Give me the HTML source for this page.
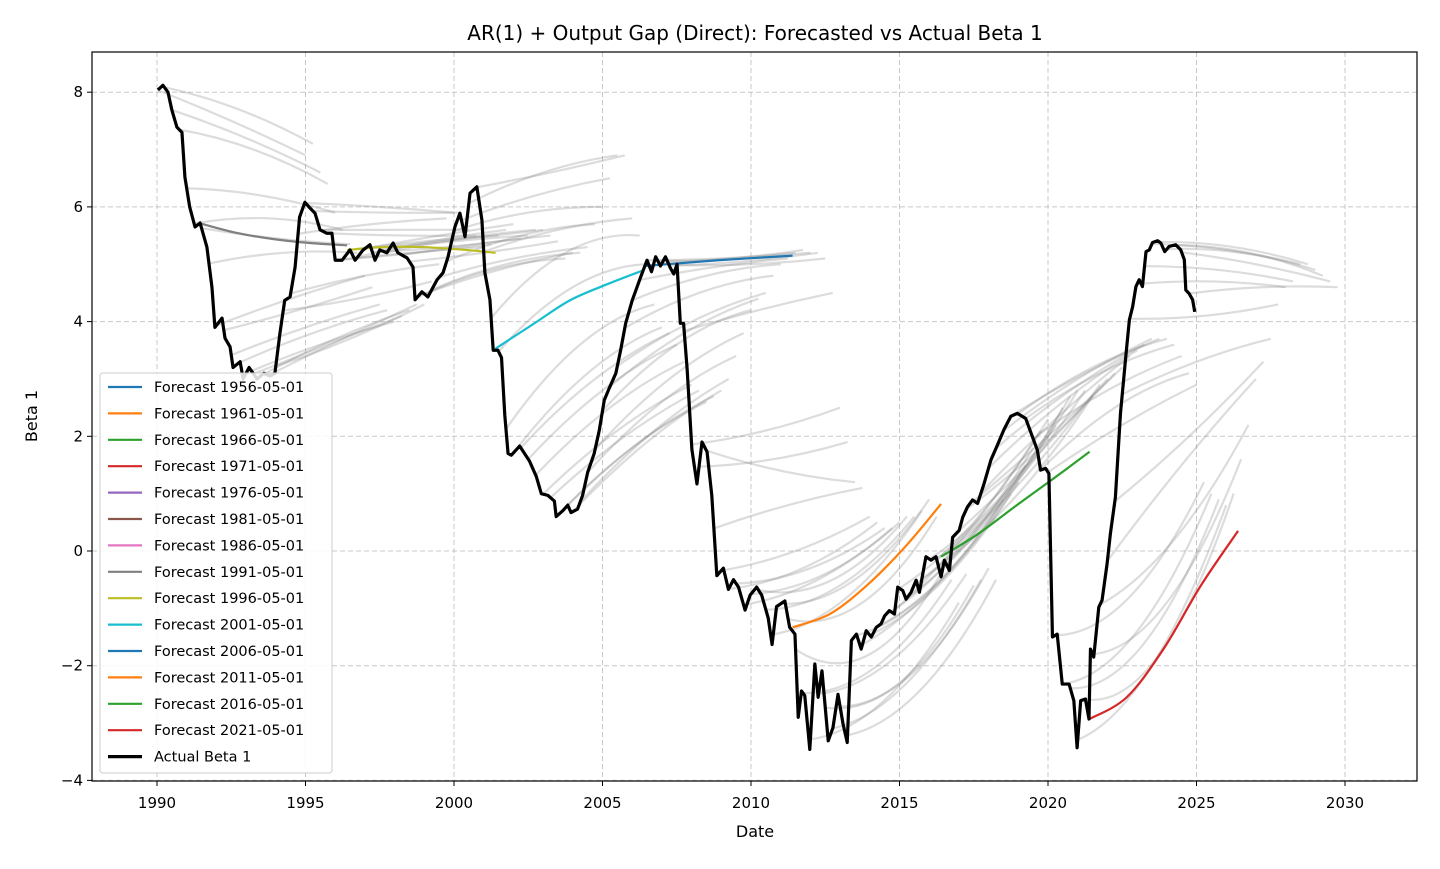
<!DOCTYPE html>
<html><head><meta charset="utf-8">
<style>
html,body{margin:0;padding:0;background:#fff;}
svg text{font-family:"DejaVu Sans","Liberation Sans",sans-serif;}
</style></head>
<body>
<svg id="chart" width="1440" height="864" viewBox="0 0 1440 864" xmlns="http://www.w3.org/2000/svg">
<rect x="0" y="0" width="1440" height="864" fill="#fff"/>
<text x="755" y="40" font-size="20" text-anchor="middle" fill="#000">AR(1) + Output Gap (Direct): Forecasted vs Actual Beta 1</text>
<text x="755" y="837" font-size="16" text-anchor="middle">Date</text>
<text x="37" y="416" font-size="16" text-anchor="middle" transform="rotate(-90 37 416)">Beta 1</text>
<g id="grid"></g>
<g id="gray"></g>
<g id="colored"></g>
<g id="actual"></g>
<rect x="92" y="52" width="1325" height="729" fill="none" stroke="#000" stroke-width="1.2"/>
<g id="ticks"></g>
<g id="legend"></g>
</svg>
<script>
const xTicks = [1990,1995,2000,2005,2010,2015,2020,2025,2030];
const yTicks = [-4,-2,0,2,4,6,8];
const actualYears = [1990.03,1990.2,1990.37,1990.5,1990.67,1990.84,1990.94,1991.1,1991.28,1991.45,1991.68,1991.85,1991.95,1992.19,1992.29,1992.46,1992.56,1992.8,1992.9,1993.1,1993.37,1993.6,1993.8,1993.97,1994.14,1994.3,1994.48,1994.65,1994.8,1994.98,1995.15,1995.32,1995.49,1995.72,1995.89,1996.0,1996.23,1996.5,1996.67,1996.94,1997.17,1997.34,1997.5,1997.74,1997.95,1998.11,1998.42,1998.62,1998.69,1998.92,1999.12,1999.43,1999.63,1999.8,2000.03,2000.2,2000.37,2000.54,2000.77,2000.94,2001.04,2001.21,2001.32,2001.48,2001.6,2001.71,2001.82,2001.93,2002.21,2002.54,2002.77,2002.94,2003.16,2003.38,2003.44,2003.66,2003.83,2003.94,2004.16,2004.33,2004.5,2004.72,2004.89,2005.06,2005.22,2005.45,2005.61,2005.78,2006.0,2006.28,2006.5,2006.65,2006.79,2006.95,2007.12,2007.29,2007.4,2007.51,2007.62,2007.73,2007.85,2008.01,2008.18,2008.35,2008.52,2008.68,2008.85,2009.07,2009.24,2009.41,2009.58,2009.8,2009.97,2010.19,2010.36,2010.58,2010.71,2010.86,2011.14,2011.3,2011.48,2011.59,2011.7,2011.81,2011.98,2012.15,2012.26,2012.39,2012.6,2012.76,2012.93,2013.1,2013.24,2013.38,2013.55,2013.71,2013.88,2014.05,2014.22,2014.38,2014.5,2014.66,2014.83,2014.94,2015.11,2015.22,2015.39,2015.56,2015.67,2015.89,2016.06,2016.23,2016.4,2016.51,2016.68,2016.79,2017.01,2017.13,2017.29,2017.46,2017.63,2017.85,2018.08,2018.3,2018.52,2018.75,2018.97,2019.25,2019.47,2019.64,2019.75,2019.92,2020.03,2020.15,2020.31,2020.48,2020.71,2020.87,2020.98,2021.1,2021.26,2021.38,2021.43,2021.54,2021.71,2021.82,2021.99,2022.1,2022.27,2022.44,2022.63,2022.74,2022.85,2022.96,2023.07,2023.18,2023.3,2023.41,2023.52,2023.69,2023.8,2023.93,2024.08,2024.3,2024.47,2024.59,2024.64,2024.75,2024.87,2024.94];
const actualValues = [8.04,8.12,8.0,7.69,7.39,7.3,6.52,6.0,5.65,5.72,5.3,4.6,3.9,4.06,3.71,3.56,3.2,3.3,3.0,3.2,3.0,3.1,3.05,3.1,3.8,4.37,4.43,4.95,5.82,6.08,5.98,5.89,5.6,5.54,5.54,5.07,5.07,5.25,5.07,5.25,5.34,5.07,5.25,5.2,5.37,5.2,5.11,4.95,4.38,4.52,4.43,4.73,4.85,5.13,5.65,5.89,5.48,6.24,6.35,5.77,4.85,4.38,3.5,3.5,3.37,2.37,1.7,1.67,1.83,1.57,1.3,1.0,0.97,0.87,0.6,0.7,0.8,0.67,0.73,0.97,1.37,1.7,2.1,2.63,2.83,3.1,3.5,3.97,4.37,4.77,5.07,4.87,5.13,4.97,5.13,4.93,4.83,5.0,3.97,3.97,3.17,1.77,1.17,1.9,1.73,0.97,-0.43,-0.3,-0.67,-0.5,-0.63,-1.03,-0.77,-0.63,-0.77,-1.17,-1.63,-0.97,-0.87,-1.33,-1.45,-2.9,-2.44,-2.52,-3.46,-1.97,-2.55,-2.09,-3.31,-3.08,-2.5,-3.02,-3.34,-1.56,-1.45,-1.71,-1.39,-1.5,-1.33,-1.27,-1.13,-1.04,-1.1,-0.63,-0.69,-0.84,-0.72,-0.51,-0.72,-0.1,-0.16,-0.1,-0.45,-0.16,-0.34,0.24,0.36,0.59,0.77,0.89,0.83,1.18,1.59,1.85,2.12,2.35,2.4,2.31,2.0,1.76,1.41,1.44,1.35,-1.5,-1.45,-2.32,-2.32,-2.61,-3.43,-2.61,-2.58,-2.93,-1.71,-1.85,-0.98,-0.86,-0.22,0.3,0.94,2.4,3.45,4.03,4.26,4.61,4.73,4.61,5.22,5.25,5.38,5.41,5.37,5.22,5.31,5.34,5.25,5.08,4.55,4.49,4.38,4.17];
// Gray forecasts: start year, value at +2.5y, value at +5y (start value taken from actual)
const grayStarts = [1990.0,1990.5,1991.0,1991.5,1992.0,1992.5,1993.0,1993.5,1994.0,1994.5,1995.0,1995.5,1996.0,1996.5,1997.0,1997.5,1998.0,1998.5,1999.0,1999.5,2000.0,2000.5,2001.0,2001.5,2002.0,2002.5,2003.0,2003.5,2004.0,2004.5,2005.0,2005.5,2006.0,2006.5,2007.0,2007.5,2008.0,2008.5,2009.0,2009.5,2010.0,2010.5,2011.0,2011.5,2012.0,2012.5,2013.0,2013.5,2014.0,2014.5,2015.0,2015.5,2016.0,2016.5,2017.0,2017.5,2018.0,2018.5,2019.0,2019.5,2020.0,2020.5,2021.0,2021.5,2022.0,2022.5,2023.0,2023.5,2024.0,2024.5];
const grayMid = [7.5,7.2,6.2,5.45,4.4,3.9,3.6,3.7,3.7,4.8,6.0,5.6,5.2,5.4,5.5,5.4,5.45,5.2,4.9,5.1,5.9,6.6,5.6,4.6,3.1,2.8,2.1,1.8,1.9,2.6,3.6,4.0,4.8,5.1,5.1,5.0,2.1,1.4,0.0,-0.3,-0.4,-0.6,-0.5,-1.8,-2.6,-2.3,-2.1,-0.7,-0.5,0.0,0.5,0.6,1.0,1.0,1.6,2.0,2.6,3.0,3.2,2.8,2.2,-1.4,-2.0,-0.9,1.5,3.3,4.7,5.25,5.2,5.0];
const grayEnd = [6.9,6.6,5.9,5.35,4.8,4.3,4.0,4.2,4.3,5.0,5.9,5.6,5.3,5.5,5.7,5.5,5.6,5.4,5.2,5.3,6.0,6.9,5.8,5.0,3.9,3.6,2.9,2.6,2.8,3.4,4.2,4.5,5.0,5.2,5.2,5.1,2.5,1.2,0.6,0.4,0.5,0.6,0.9,-0.3,-0.9,-0.6,-0.3,0.9,1.2,1.8,2.3,2.5,2.8,2.7,3.0,3.2,3.5,3.7,3.7,3.4,2.9,1.0,0.8,1.6,3.0,3.7,4.6,5.0,4.9,4.7];
const grayStartsB = [1990.25,1990.75,1991.25,1991.75,1992.25,1992.75,1993.25,1993.75,1994.25,1994.75,1995.25,1995.75,1996.25,1996.75,1997.25,1997.75,1998.25,1998.75,1999.25,1999.75,2000.25,2000.75,2001.25,2001.75,2002.25,2002.75,2003.25,2003.75,2004.25,2004.75,2005.25,2005.75,2006.25,2006.75,2007.25,2007.75,2008.25,2008.75,2009.25,2009.75,2010.25,2010.75,2011.25,2011.75,2012.25,2012.75,2013.25,2013.75,2014.25,2014.75,2015.25,2015.75,2016.25,2016.75,2017.25,2017.75,2018.25,2018.75,2019.25,2019.75,2020.25,2020.75,2021.25,2021.75,2022.25,2022.75,2023.25,2023.75,2024.25,2024.75];
const grayMidB = [7.7,7.0,5.8,5.2,4.2,3.8,3.6,3.7,4.4,5.7,5.9,5.5,5.2,5.4,5.3,5.45,5.35,4.9,5.0,5.5,6.2,6.6,5.2,3.6,3.0,2.5,2.0,1.9,2.1,3.0,3.8,4.5,4.95,5.1,5.05,4.2,1.6,0.8,-0.3,-0.5,-0.5,-0.8,-0.9,-2.0,-1.9,-2.3,-2.4,-0.6,-0.3,0.3,0.4,0.8,1.1,1.3,1.8,2.3,2.8,3.1,3.1,2.5,-0.8,-1.6,-1.8,0.2,2.0,4.1,4.9,5.3,5.2,4.6];
const grayEndB = [7.1,6.4,5.6,5.2,4.6,4.2,4.1,4.3,4.7,5.8,5.9,5.5,5.35,5.6,5.45,5.6,5.5,5.1,5.2,5.7,6.5,6.9,5.5,4.3,3.8,3.3,2.8,2.7,3.0,3.8,4.4,4.8,5.1,5.25,5.2,4.5,1.9,1.1,0.5,0.4,0.6,0.7,0.6,-0.5,-0.4,-0.5,-0.5,1.0,1.5,2.1,2.2,2.7,2.8,2.9,3.1,3.4,3.6,3.7,3.6,3.1,1.2,0.9,1.0,2.2,3.3,4.3,4.7,5.0,4.8,4.6];
// Colored (legend) forecasts, values at 0, 1.25, 2.5, 3.75, 5 years after start
const colorStarts = [1991.4,1996.4,2001.4,2006.4,2011.4,2016.4,2021.4];
const colorNames = ['1991','1996','2001','2006','2011','2016','2021'];
const f1991 = [5.72,5.55,5.44,5.37,5.33];
const f1996 = [5.25,5.30,5.30,5.26,5.2];
const f2001 = [3.53,3.95,4.37,4.65,4.9];
const f2006 = [4.97,5.02,5.07,5.11,5.15];
const f2011 = [-1.33,-1.1,-0.6,0.05,0.82];
const f2016 = [-0.1,0.3,0.78,1.25,1.73];
const f2021 = [-2.93,-2.55,-1.7,-0.6,0.35];
const legendLabels = ['Forecast 1956-05-01','Forecast 1961-05-01','Forecast 1966-05-01','Forecast 1971-05-01','Forecast 1976-05-01','Forecast 1981-05-01','Forecast 1986-05-01','Forecast 1991-05-01','Forecast 1996-05-01','Forecast 2001-05-01','Forecast 2006-05-01','Forecast 2011-05-01','Forecast 2016-05-01','Forecast 2021-05-01','Actual Beta 1'];

const NS='http://www.w3.org/2000/svg';
const palette=['#1f77b4','#ff7f0e','#2ca02c','#d62728','#9467bd','#8c564b','#e377c2','#7f7f7f','#bcbd22','#17becf','#1f77b4','#ff7f0e','#2ca02c','#d62728','#000'];
const X0=92,X1=1417,Y0=52,Y1=781;
function xs(yr){return 157+(yr-1990)*29.7;}
function ys(v){return 551-v*57.35;}
function mk(tag,attrs,parent){const e=document.createElementNS(NS,tag);for(const k in attrs)e.setAttribute(k,attrs[k]);parent.appendChild(e);return e;}
function actualAt(yr){
  if(yr<=actualYears[0])return actualValues[0];
  for(let i=1;i<actualYears.length;i++){if(actualYears[i]>=yr){const t=(yr-actualYears[i-1])/(actualYears[i]-actualYears[i-1]);return actualValues[i-1]+t*(actualValues[i]-actualValues[i-1]);}}
  return actualValues[actualValues.length-1];
}
const grid=document.getElementById('grid'),ticks=document.getElementById('ticks');
xTicks.forEach(t=>{
  const x=xs(t);
  const g=mk('line',{x1:x,x2:x,y1:Y0,y2:Y1,stroke:'#b0b0b0','stroke-opacity':0.7,'stroke-dasharray':'5,3','stroke-width':1},grid);
  
  
  const tk=mk('line',{x1:x,x2:x,y1:Y1,y2:Y1+5,stroke:'#000'},ticks);
  
  
  const lb=mk('text',{x:x,y:808,'font-size':15,'text-anchor':'middle'},ticks);lb.textContent=t;
  
  
});
yTicks.forEach(t=>{
  const y=ys(t);
  const g=mk('line',{x1:X0,x2:X1,y1:y,y2:y,stroke:'#b0b0b0','stroke-opacity':0.7,'stroke-dasharray':'5,3','stroke-width':1},grid);
  
  
  const tk=mk('line',{x1:X0-5,x2:X0,y1:y,y2:y,stroke:'#000'},ticks);
  
  
  const lb=mk('text',{x:X0-9,y:y+5,'font-size':15,'text-anchor':'end'},ticks);lb.textContent=(t<0?'\u2212'+(-t):t);
  
  
});
const gray=document.getElementById('gray');
function drawGray(starts,mids,ends){
  starts.forEach((s,i)=>{
    const sv=actualAt(s),mv=mids[i],ev=ends[i];
    const cx=xs(s+2.5),cy=ys(2*mv-(sv+ev)/2);
    const p=mk('path',{d:`M${xs(s)},${ys(sv)} Q${cx},${cy} ${xs(s+5)},${ys(ev)}`,fill:'none',stroke:'#808080','stroke-opacity':0.28,'stroke-width':2.2},gray);
    
    
  });
}
drawGray(grayStarts,grayMid,grayEnd);
drawGray(grayStartsB,grayMidB,grayEndB);
const colored=document.getElementById('colored');
const cSeries=[f1991,f1996,f2001,f2006,f2011,f2016,f2021];
const cCols=['#7f7f7f','#bcbd22','#17becf','#1f77b4','#ff7f0e','#2ca02c','#d62728'];
function smooth(pts){let d=`M${pts[0][0]},${pts[0][1]}`;for(let i=0;i<pts.length-1;i++){const p0=pts[Math.max(0,i-1)],p1=pts[i],p2=pts[i+1],p3=pts[Math.min(pts.length-1,i+2)];d+=` C${p1[0]+(p2[0]-p0[0])/6},${p1[1]+(p2[1]-p0[1])/6} ${p2[0]-(p3[0]-p1[0])/6},${p2[1]-(p3[1]-p1[1])/6} ${p2[0]},${p2[1]}`;}return d;}
cSeries.forEach((ser,i)=>{
  const pts=ser.map((v,k)=>[xs(colorStarts[i]+k*1.25),ys(v)]);
  const p=mk('path',{d:smooth(pts),fill:'none',stroke:cCols[i],'stroke-width':2.2},colored);
  
  
});
const act=document.getElementById('actual');
const ap=mk('polyline',{points:actualYears.map((y,i)=>xs(y)+','+ys(actualValues[i])).join(' '),fill:'none',stroke:'#000','stroke-width':3.2,'stroke-linejoin':'round'},act);


const leg=document.getElementById('legend');
const box=mk('rect',{x:100,y:373,width:232,height:400,rx:3,fill:'#fff','fill-opacity':0.85,stroke:'#ccc'},leg);


legendLabels.forEach((lab,i)=>{
  const y=387+i*26.4;
  const l=mk('line',{x1:108,x2:142,y1:y,y2:y,stroke:palette[i],'stroke-width':i===14?3.2:2.2},leg);
  
  
  const t=mk('text',{x:154,y:y+5,'font-size':14.5},leg);t.textContent=lab;
  
  
});
</script>
</body></html>
